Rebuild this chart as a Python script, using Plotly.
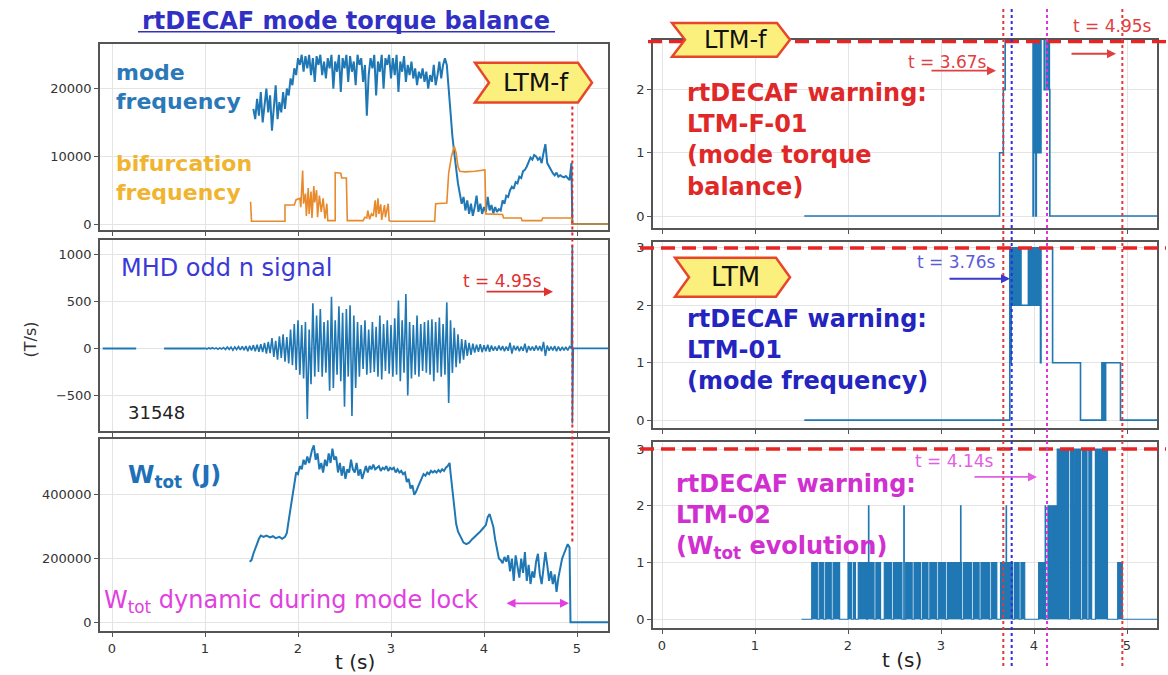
import plotly.graph_objects as go
from plotly.subplots import make_subplots

W, H = 1168, 675


def px(x):
    return x / W


def py(y):
    return 1 - y / H


# ---------------- data ----------------
# mode frequency (Hz)
mode_t = [1.52, 1.54, 1.56, 1.58, 1.60, 1.62, 1.64, 1.66, 1.68, 1.70, 1.72, 1.74, 1.76, 1.78, 1.80,
          1.82, 1.84, 1.86, 1.88, 1.90, 1.92, 1.94, 1.96, 1.98, 2.00, 2.02, 2.04, 2.06, 2.08, 2.10,
          2.12, 2.14, 2.16, 2.18, 2.20, 2.22, 2.24, 2.26, 2.28, 2.30, 2.32, 2.34, 2.36, 2.38, 2.40,
          2.42, 2.44, 2.46, 2.48, 2.50, 2.52, 2.54, 2.56, 2.58, 2.60, 2.62, 2.64, 2.66, 2.68, 2.70,
          2.72, 2.74, 2.76, 2.78, 2.80, 2.82, 2.84, 2.86, 2.88, 2.90, 2.92, 2.94, 2.96, 2.98, 3.00,
          3.02, 3.04, 3.06, 3.08, 3.10, 3.12, 3.14, 3.16, 3.18, 3.20, 3.22, 3.24, 3.26, 3.28, 3.30,
          3.32, 3.34, 3.36, 3.38, 3.40, 3.42, 3.44, 3.46, 3.48, 3.50, 3.52, 3.54, 3.56, 3.58, 3.60,
          3.62, 3.64, 3.66, 3.68, 3.70, 3.72, 3.74, 3.76, 3.78, 3.80, 3.82, 3.84, 3.86, 3.88, 3.90,
          3.92, 3.94, 3.96, 3.98, 4.00, 4.02, 4.04, 4.06, 4.08, 4.10, 4.12, 4.14, 4.16, 4.18, 4.20,
          4.22, 4.24, 4.26, 4.28, 4.30, 4.32, 4.34, 4.36, 4.38, 4.40, 4.42, 4.44, 4.46, 4.48, 4.50,
          4.52, 4.54, 4.56, 4.58, 4.60, 4.62, 4.64, 4.66, 4.68, 4.70, 4.72, 4.74, 4.76, 4.78, 4.80,
          4.82, 4.84, 4.86, 4.88, 4.90, 4.92, 4.94, 4.95, 5.35]
mode_f = [17000, 15500, 18500, 16000, 19500, 15000, 17500, 20000, 16500, 19000, 13800, 17000, 20500, 15500, 18000,
          16500, 19500, 17000, 20000, 19000, 21500, 20500, 23000, 22000, 24500, 23500, 25000, 22500, 24800, 23000,
          25000, 22000, 24500, 21000, 24800, 23500, 25000, 22000, 24000, 21500, 24500, 23000, 25000, 20000, 24000,
          22500, 25000, 19500, 24500, 23000, 25000, 21000, 24800, 22500, 24000, 20500, 25000, 23500, 24500, 21000,
          23500, 16000, 22000, 24500, 23000, 25000, 19000, 24000, 22500, 25000, 20000, 24500, 23500, 25000, 21500,
          24500, 22000, 25000, 19500, 24000, 22500, 24800, 21000, 23500, 22000, 24000, 21500, 23000, 20500, 22500,
          21500, 23000, 21000, 22500, 20000, 22000, 21000, 23500, 20500, 22000, 24000, 21500, 23500, 24500, 23500,
          20000, 16000, 13000, 10500, 8000, 6000, 4500, 3000, 4000, 2000, 3500, 1500, 3000, 1200, 2500,
          4200, 1800, 3000, 1500, 2500, 1800, 4000, 2000, 2800, 1600, 2500, 1800, 2200, 2000, 3500,
          3000, 4200, 4000, 5000, 5500, 5200, 6200, 6000, 7000, 6800, 7800, 8000, 8500, 9200, 9800,
          9500, 10200, 10000, 9500, 9800, 9000, 10500, 11800, 9000, 8500, 7800, 7500, 7200, 7600, 7000,
          7200, 7000, 6900, 7100, 6800, 6500, 9000, 0, 0]

# bifurcation frequency (Hz)
bif_t = [1.49, 1.50, 1.86, 1.86, 1.96, 1.98, 2.02, 2.03, 2.05, 2.06, 2.08, 2.09, 2.11, 2.12, 2.14,
         2.15, 2.17, 2.18, 2.20, 2.21, 2.23, 2.25, 2.27, 2.29, 2.31, 2.32, 2.40, 2.40, 2.46, 2.47,
         2.52, 2.53, 2.70, 2.72, 2.74, 2.75, 2.77, 2.79, 2.81, 2.83, 2.84, 2.86, 2.87, 2.89, 2.90,
         2.93, 2.94, 2.97, 2.98, 3.00, 3.47, 3.48, 3.60, 3.62, 3.65, 3.68, 3.70, 3.72, 3.74, 3.80,
         3.90, 4.01, 4.02, 4.20, 4.21, 4.40, 4.41, 4.62, 4.63, 4.94, 4.95, 5.35]
bif_f = [3300, 400, 400, 2800, 2800, 3600, 3800, 2500, 7900, 3000, 4500, 1200, 5300, 1500, 4800,
         900, 5600, 3200, 5000, 1000, 4200, 1800, 3800, 800, 3000, 500, 500, 7600, 7500, 6800,
         6800, 500, 500, 1000, 900, 2000, 700, 1500, 1200, 3500, 1000, 3800, 1500, 2900, 600,
         2800, 1000, 3000, 500, 400, 400, 3000, 3100, 7500, 10000, 11500, 10500, 8500, 7800, 7700,
         7800, 8000, 1500, 1400, 900, 900, 500, 500, 900, 900, 0, 0]

# MHD odd-n signal (T/s): quiet start, sampled burst, final spike at lock
mhd_quiet_t = [-0.10, 0.26, None, 0.56, 1.00]
mhd_quiet_v = [0, 0, None, 0, 0]
mhd_start = 1.00
mhd_step = 0.02
mhd_v = [4, -6, 5, -4, 7, -5, 6, -8, 5, -6,
         10, -12, 15, -10, 14, -18, 16, -12, 20, -15,
         22, -18, 25, -30, 28, -22, 35, -30, 40, -35,
         45, -40, 60, -55, 70, -50, 110, -90, 80, -120,
         130, -100, 150, -140, 120, -160, 200, -180, 260, -230,
         300, -280, 250, -320, 280, -750, 200, -380, 480, -300,
         350, -250, 420, -300, 280, -260, 300, -450, 550, -420,
         300, -280, 450, -350, 380, -620, 420, -300, 460, -720,
         350, -420, 280, -300, 250, -220, 300, -280, 200, -260,
         280, -250, 230, -300, 350, -330, 260, -240, 300, -270,
         250, -300, 320, -280, 510, -350, 300, -260, 580, -500,
         280, -320, 250, -280, 350, -300, 260, -240, 280, -260,
         300, -280, 310, -350, 280, -260, 330, -300, 260, -280,
         490, -580, 300, -260, 220, -200, 150, -160, 100, -120,
         90, -80, 60, -70, 50, -45, 40, -35, 45, -40,
         35, -30, 40, -35, 30, -25, 20, -25, 30, -20,
         25, -30, 20, -25, 60, -55, 30, -20, 25, -30,
         20, -25, 50, -45, 25, -20, 20, -25, 30, -20,
         25, -30, 70, -80, 30, -25, 20, -20, 25, -30,
         20, -25, 15, -20, 15, -20, 20]
mhd_end_t = [4.94, 4.95, 4.95, 4.96, 5.35]
mhd_end_v = [0, 1100, -800, 0, 0]

# stored energy W_tot (J)
wtot_t = [1.48, 1.50, 1.52, 1.55, 1.58, 1.60, 1.63, 1.66, 1.70, 1.73, 1.76, 1.80, 1.83, 1.86, 1.88,
          1.90, 1.93, 1.96, 1.98, 2.00, 2.02, 2.04, 2.06, 2.08, 2.10, 2.12, 2.15, 2.17, 2.19, 2.21,
          2.23, 2.25, 2.27, 2.29, 2.31, 2.33, 2.35, 2.37, 2.39, 2.41, 2.43, 2.45, 2.47, 2.49, 2.51,
          2.53, 2.55, 2.57, 2.59, 2.61, 2.63, 2.65, 2.67, 2.69, 2.71, 2.73, 2.75, 2.77, 2.79, 2.81,
          2.83, 2.85, 2.87, 2.89, 2.91, 2.93, 2.95, 2.97, 2.99, 3.01, 3.03, 3.05, 3.07, 3.09, 3.11,
          3.13, 3.15, 3.17, 3.19, 3.21, 3.23, 3.25, 3.27, 3.29, 3.31, 3.33, 3.35, 3.37, 3.39, 3.41,
          3.43, 3.45, 3.47, 3.49, 3.51, 3.53, 3.55, 3.57, 3.59, 3.61, 3.63, 3.64, 3.66, 3.68, 3.70,
          3.72, 3.75, 3.78, 3.81, 3.84, 3.87, 3.90, 3.93, 3.96, 3.99, 4.02, 4.04, 4.06, 4.08, 4.10,
          4.12, 4.14, 4.16, 4.18, 4.20, 4.22, 4.24, 4.26, 4.28, 4.30, 4.32, 4.34, 4.36, 4.38, 4.40,
          4.42, 4.44, 4.46, 4.48, 4.50, 4.52, 4.54, 4.56, 4.58, 4.60, 4.62, 4.64, 4.66, 4.68, 4.70,
          4.72, 4.74, 4.76, 4.78, 4.80, 4.82, 4.84, 4.86, 4.88, 4.90, 4.92, 4.93, 5.35]
wtot_v = [190000, 195000, 215000, 240000, 262000, 272000, 268000, 272000, 266000, 270000, 264000, 268000, 262000, 268000, 280000,
          320000, 380000, 440000, 470000, 465000, 490000, 480000, 510000, 495000, 520000, 500000, 540000, 555000, 510000, 530000,
          480000, 500000, 470000, 510000, 490000, 530000, 500000, 545000, 510000, 520000, 470000, 500000, 460000, 490000, 450000,
          480000, 470000, 510000, 480000, 470000, 500000, 460000, 480000, 450000, 470000, 490000, 470000, 490000, 480000, 495000,
          480000, 485000, 490000, 475000, 485000, 480000, 490000, 475000, 485000, 480000, 485000, 470000, 480000, 470000, 475000,
          465000, 470000, 440000, 450000, 420000, 430000, 400000, 410000, 425000, 440000, 450000, 465000, 460000, 470000, 465000,
          475000, 470000, 475000, 470000, 478000, 472000, 480000, 475000, 485000, 490000, 500000, 470000, 420000, 360000, 310000,
          285000, 265000, 250000, 245000, 250000, 260000, 268000, 275000, 285000, 295000, 305000, 330000, 340000, 320000, 300000,
          260000, 230000, 200000, 195000, 185000, 205000, 190000, 210000, 160000, 200000, 130000, 210000, 170000, 140000, 200000,
          155000, 220000, 130000, 180000, 120000, 160000, 140000, 190000, 215000, 150000, 120000, 170000, 220000, 180000, 130000,
          160000, 120000, 150000, 95000, 140000, 170000, 200000, 215000, 230000, 245000, 235000, 0, 0]

# rtDECAF warning levels (step signals)
f01_t = [1.53, 3.63, 3.67, 3.69,
         3.990, 3.995, 4.000, 4.005, 4.010, 4.015, 4.020, 4.025, 4.030,
         4.035, 4.040, 4.045, 4.050, 4.055, 4.060, 4.065, 4.070, 4.075,
         4.08, 4.11, 4.13, 4.135, 4.14, 4.145, 4.15, 4.155, 4.16, 4.165, 4.17, 5.33]
f01_v = [0, 1, 2, 3,
         0, 3, 1, 3, 1, 3, 0, 3, 1,
         3, 1, 3, 1, 3, 1, 3, 1, 3,
         3, 2, 3, 2, 3, 2, 3, 2, 3, 2, 0, 0]

m01_t = [1.53, 3.74,
         3.750, 3.755, 3.760, 3.765, 3.770, 3.775, 3.780, 3.785, 3.790, 3.795, 3.800,
         3.805, 3.810, 3.815, 3.820, 3.825, 3.830, 3.835, 3.840, 3.845, 3.850, 3.855,
         3.86,
         3.940, 3.945, 3.950, 3.955, 3.960, 3.965, 3.970, 3.975, 3.980, 3.985, 3.990, 3.995,
         4.000, 4.005, 4.010, 4.015, 4.020, 4.025, 4.030, 4.035, 4.040, 4.045, 4.050, 4.055, 4.060,
         4.07, 4.075, 4.20, 4.50, 4.73, 4.74, 4.75, 4.76, 4.77, 4.93, 5.33]
m01_v = [0, 3,
         1, 3, 2, 3, 2, 3, 2, 3, 2, 3, 2,
         3, 2, 3, 2, 3, 2, 3, 2, 3, 2, 3,
         2,
         3, 2, 3, 2, 3, 2, 3, 2, 3, 2, 3, 2,
         3, 2, 3, 2, 3, 2, 3, 2, 3, 2, 3, 2, 3,
         1, 3, 1, 0, 1, 0, 1, 0, 1, 0, 0]

l02_t = [1.50, 1.61, 1.67, 1.69, 1.74, 1.76, 1.82, 1.84, 1.91,
         2.00, 2.04, 2.06, 2.08, 2.11, 2.20, 2.21, 2.22, 2.225, 2.28, 2.30, 2.35,
         2.39, 2.47, 2.49, 2.58, 2.60, 2.605, 2.62, 2.69,
         2.71, 2.78, 2.80, 2.86, 2.88, 2.95, 2.97, 3.05, 3.07, 3.21, 3.215, 3.22,
         3.24, 3.33, 3.35, 3.41, 3.43, 3.52, 3.54, 3.60,
         3.64, 3.70, 3.705, 3.77, 3.79, 3.84, 3.86, 3.90,
         4.05, 4.11, 4.12, 4.125, 4.15, 4.19, 4.20, 4.25, 4.29, 4.30, 4.37, 4.39,
         4.44, 4.445, 4.50, 4.52, 4.57, 4.59, 4.62, 4.66, 4.79, 4.90, 4.95, 5.33]
l02_v = [0, 1, 0, 1, 0, 1, 0, 1, 0,
         1, 0, 1, 0, 1, 0, 1, 2, 1, 0, 1, 0,
         1, 0, 1, 0, 2, 0, 1, 0,
         1, 0, 1, 0, 1, 0, 1, 0, 1, 2, 1, 0,
         1, 0, 1, 0, 1, 0, 1, 0,
         1, 2, 1, 0, 1, 0, 1, 0,
         1, 0, 2, 0, 2, 1, 2, 3, 2, 3, 0, 3,
         2, 3, 0, 3, 0, 3, 0, 3, 0, 1, 0, 0]

# warning onset times (s)
t_f01 = 3.67
t_m01 = 3.76
t_m02 = 4.14
t_lock = 4.95

# ---------------- figure ----------------
fig = make_subplots(rows=3, cols=2)

BLUE = "#1f77b4"
ORANGE = "#e8892c"

fig.add_trace(go.Scatter(x=mode_t, y=mode_f, mode="lines", line=dict(color=BLUE, width=2)), row=1, col=1)
fig.add_trace(go.Scatter(x=bif_t, y=bif_f, mode="lines", line=dict(color=ORANGE, width=1.6)), row=1, col=1)

fig.add_trace(go.Scatter(x=mhd_quiet_t, y=mhd_quiet_v, mode="lines", line=dict(color=BLUE, width=2)), row=2, col=1)
mhd_t = [round(mhd_start + i * mhd_step, 3) for i in range(len(mhd_v))]
fig.add_trace(go.Scatter(x=mhd_t + mhd_end_t, y=mhd_v + mhd_end_v, mode="lines",
                         line=dict(color=BLUE, width=1.6)), row=2, col=1)

fig.add_trace(go.Scatter(x=wtot_t, y=wtot_v, mode="lines", line=dict(color=BLUE, width=2)), row=3, col=1)

fig.add_trace(go.Scatter(x=f01_t, y=f01_v, mode="lines", line=dict(color=BLUE, width=1.6, shape="hv")), row=1, col=2)
fig.add_trace(go.Scatter(x=m01_t, y=m01_v, mode="lines", line=dict(color=BLUE, width=1.6, shape="hv")), row=2, col=2)
fig.add_trace(go.Scatter(x=l02_t, y=l02_v, mode="lines", fill="tozeroy", fillcolor=BLUE,
                         line=dict(color=BLUE, width=1.2, shape="hv")), row=3, col=2)

tickfont = dict(family="DejaVu Sans", size=13, color="#333")
ax_common = dict(showline=True, linecolor="#555", linewidth=1.5, mirror=True,
                 ticks="outside", ticklen=4, tickcolor="#555", tickwidth=1.2,
                 showgrid=True, gridcolor="#e4e4e4", gridwidth=1, zeroline=False,
                 tickfont=tickfont)

xl = [px(100), px(608)]
xr = [px(653), px(1157)]
xrange_l = [(100 - 112) / 93, (608 - 112) / 93]
xrange_r = [(653 - 662) / 93, (1157 - 662) / 93]
xticks = [0, 1, 2, 3, 4, 5]

layout = dict(
    xaxis=dict(domain=xl, range=xrange_l, tickvals=xticks, showticklabels=False, **ax_common),
    xaxis2=dict(domain=xr, range=xrange_r, tickvals=xticks, showticklabels=False, **ax_common),
    xaxis3=dict(domain=xl, range=xrange_l, tickvals=xticks, showticklabels=False, **ax_common),
    xaxis4=dict(domain=xr, range=xrange_r, tickvals=xticks, showticklabels=False, **ax_common),
    xaxis5=dict(domain=xl, range=xrange_l, tickvals=xticks, **ax_common),
    xaxis6=dict(domain=xr, range=xrange_r, tickvals=xticks, **ax_common),
    yaxis=dict(domain=[py(230), py(43)], range=[-880, 26620], tickvals=[0, 10000, 20000], tickformat="d", **ax_common),
    yaxis3=dict(domain=[py(432), py(240)], range=[-880, 1155], tickvals=[-500, 0, 500, 1000], tickformat="d", **ax_common),
    yaxis5=dict(domain=[py(633), py(440)], range=[-28000, 575000], tickvals=[0, 200000, 400000], tickformat="d", **ax_common),
    yaxis2=dict(domain=[py(228), py(39)], range=[-0.189, 2.787], tickvals=[0, 1, 2], **ax_common),
    yaxis4=dict(domain=[py(429), py(242)], range=[-0.139, 3.104], tickvals=[0, 1, 2, 3], **ax_common),
    yaxis6=dict(domain=[py(630), py(443)], range=[-0.158, 3.123], tickvals=[0, 1, 2, 3], **ax_common),
)
fig.update_layout(**layout)

# ---------------- shapes ----------------
shapes = []

# title underline
shapes.append(dict(type="line", xref="paper", yref="paper", x0=px(138), x1=px(555), y0=py(31), y1=py(31),
                   line=dict(color="#3030c4", width=1.5)))

# mode-lock time on the left column
shapes.append(dict(type="line", xref="x", yref="paper", x0=t_lock, x1=t_lock, y0=py(543), y1=py(104),
                   line=dict(color="#e02a2a", width=2, dash="3px,3px")))

# threshold lines on the warning panels
thr = dict(color="#e82424", width=3.5, dash="14px,7px")
shapes.append(dict(type="line", xref="paper", yref="y2", x0=px(648), x1=px(1166), y0=2.76, y1=2.76, line=thr))
shapes.append(dict(type="line", xref="paper", yref="y4", x0=px(640), x1=px(1166), y0=3, y1=3, line=thr))
shapes.append(dict(type="line", xref="paper", yref="y6", x0=px(640), x1=px(1166), y0=3, y1=3, line=thr))

# warning onset markers across the right column
for tv, col in [(t_f01, "#e03a3a"), (t_m01, "#2e2ee0"), (t_m02, "#e030e0"), (t_lock, "#e03a3a")]:
    shapes.append(dict(type="line", xref="x2", yref="paper", x0=tv, x1=tv, y0=py(668), y1=py(8),
                       line=dict(color=col, width=2, dash="3px,3px")))


def chevron(x0, y0, x1, y1, d):
    ym = (y0 + y1) / 2
    pts = [(x0, y0), (x1 - d, y0), (x1, ym), (x1 - d, y1), (x0, y1), (x0 + d, ym)]
    path = "M " + " L ".join(f"{px(a):.5f},{py(b):.5f}" for a, b in pts) + " Z"
    return dict(type="path", xref="paper", yref="paper", path=path,
                fillcolor="#fbf07e", line=dict(color="#e8462a", width=2.5))


shapes.append(chevron(475, 62, 592, 102, 14))
shapes.append(chevron(672, 22, 790, 56, 13))
shapes.append(chevron(675, 258, 790, 297, 14))

fig.update_layout(shapes=shapes)

# ---------------- annotations ----------------
ann = []


def text(x, y, s, size, color, xanchor="left", family="DejaVu Sans", **kw):
    ann.append(dict(xref="paper", yref="paper", x=px(x), y=py(y), text=s, showarrow=False,
                    xanchor=xanchor, yanchor="middle", align="left",
                    font=dict(family=family, size=size, color=color), **kw))


def arrow(x0, x1, y, color, both=False):
    ann.append(dict(xref="paper", yref="paper", x=px(x1), y=py(y), ax=x0 - x1, ay=0, text="",
                    showarrow=True, arrowhead=2, arrowsize=1, arrowwidth=1.8, arrowcolor=color,
                    arrowside="end+start" if both else "end", startarrowhead=2))


text(346, 20, "<b>rtDECAF mode torque balance</b>", 24, "#3030c4", xanchor="center")

text(114, 86, "<b>mode<br>frequency</b>", 22, "#2b78b8")
text(114, 178, "<b>bifurcation<br>frequency</b>", 22, "#f0b430")
text(536, 82, "LTM-f", 25, "#111", xanchor="center")

text(119, 268, "MHD odd n signal", 24, "#3a3ad6")
text(502, 281, "t = 4.95s", 17, "#e03030", xanchor="center")
arrow(485, 553, 292, "#e03030")
text(126, 413, "31548", 18, "#222")
ann.append(dict(xref="paper", yref="paper", x=px(30), y=py(340), text="(T/s)", showarrow=False,
                textangle=-90, xanchor="center", yanchor="middle",
                font=dict(family="DejaVu Sans", size=16, color="#333")))

text(126, 478, "<b>W<sub>tot</sub> (J)</b>", 24, "#2070b8")
text(102, 603, "W<sub>tot</sub> dynamic during mode lock", 24, "#e040e0")
arrow(505, 569, 605, "#e040e0", both=True)
text(355, 664, "t (s)", 20, "#222", xanchor="center")

text(735, 39, "LTM-f", 24, "#111", xanchor="center")
text(947, 61, "t = 3.67s", 17, "#e04040", xanchor="center")
arrow(930, 996, 70, "#e04040")
text(1112, 25, "t = 4.95s", 17, "#e04040", xanchor="center")
arrow(1070, 1116, 53, "#e04040")
text(685, 140, "<b>rtDECAF warning:<br>LTM-F-01<br>(mode torque<br>balance)</b>", 24, "#e02828")

text(735, 277, "LTM", 26, "#111", xanchor="center")
text(956, 262, "t = 3.76s", 17, "#5c5cd8", xanchor="center")
arrow(948, 1010, 279, "#3a3ad0")
text(685, 351, "<b>rtDECAF warning:<br>LTM-01<br>(mode frequency)</b>", 24, "#2424c0")

text(954, 462, "t = 4.14s", 17, "#e060e0", xanchor="center")
arrow(973, 1037, 478, "#e060e0")
text(674, 518, "<b>rtDECAF warning:<br>LTM-02<br>(W<sub>tot</sub> evolution)</b>", 24, "#d030d0")
text(902, 662, "t (s)", 20, "#222", xanchor="center")

fig.update_layout(annotations=ann)

fig.update_layout(width=W, height=H, margin=dict(l=0, r=0, t=0, b=0),
                  paper_bgcolor="white", plot_bgcolor="white", showlegend=False,
                  hovermode=False, font=dict(family="DejaVu Sans"))

fig.write_html("out.html")
